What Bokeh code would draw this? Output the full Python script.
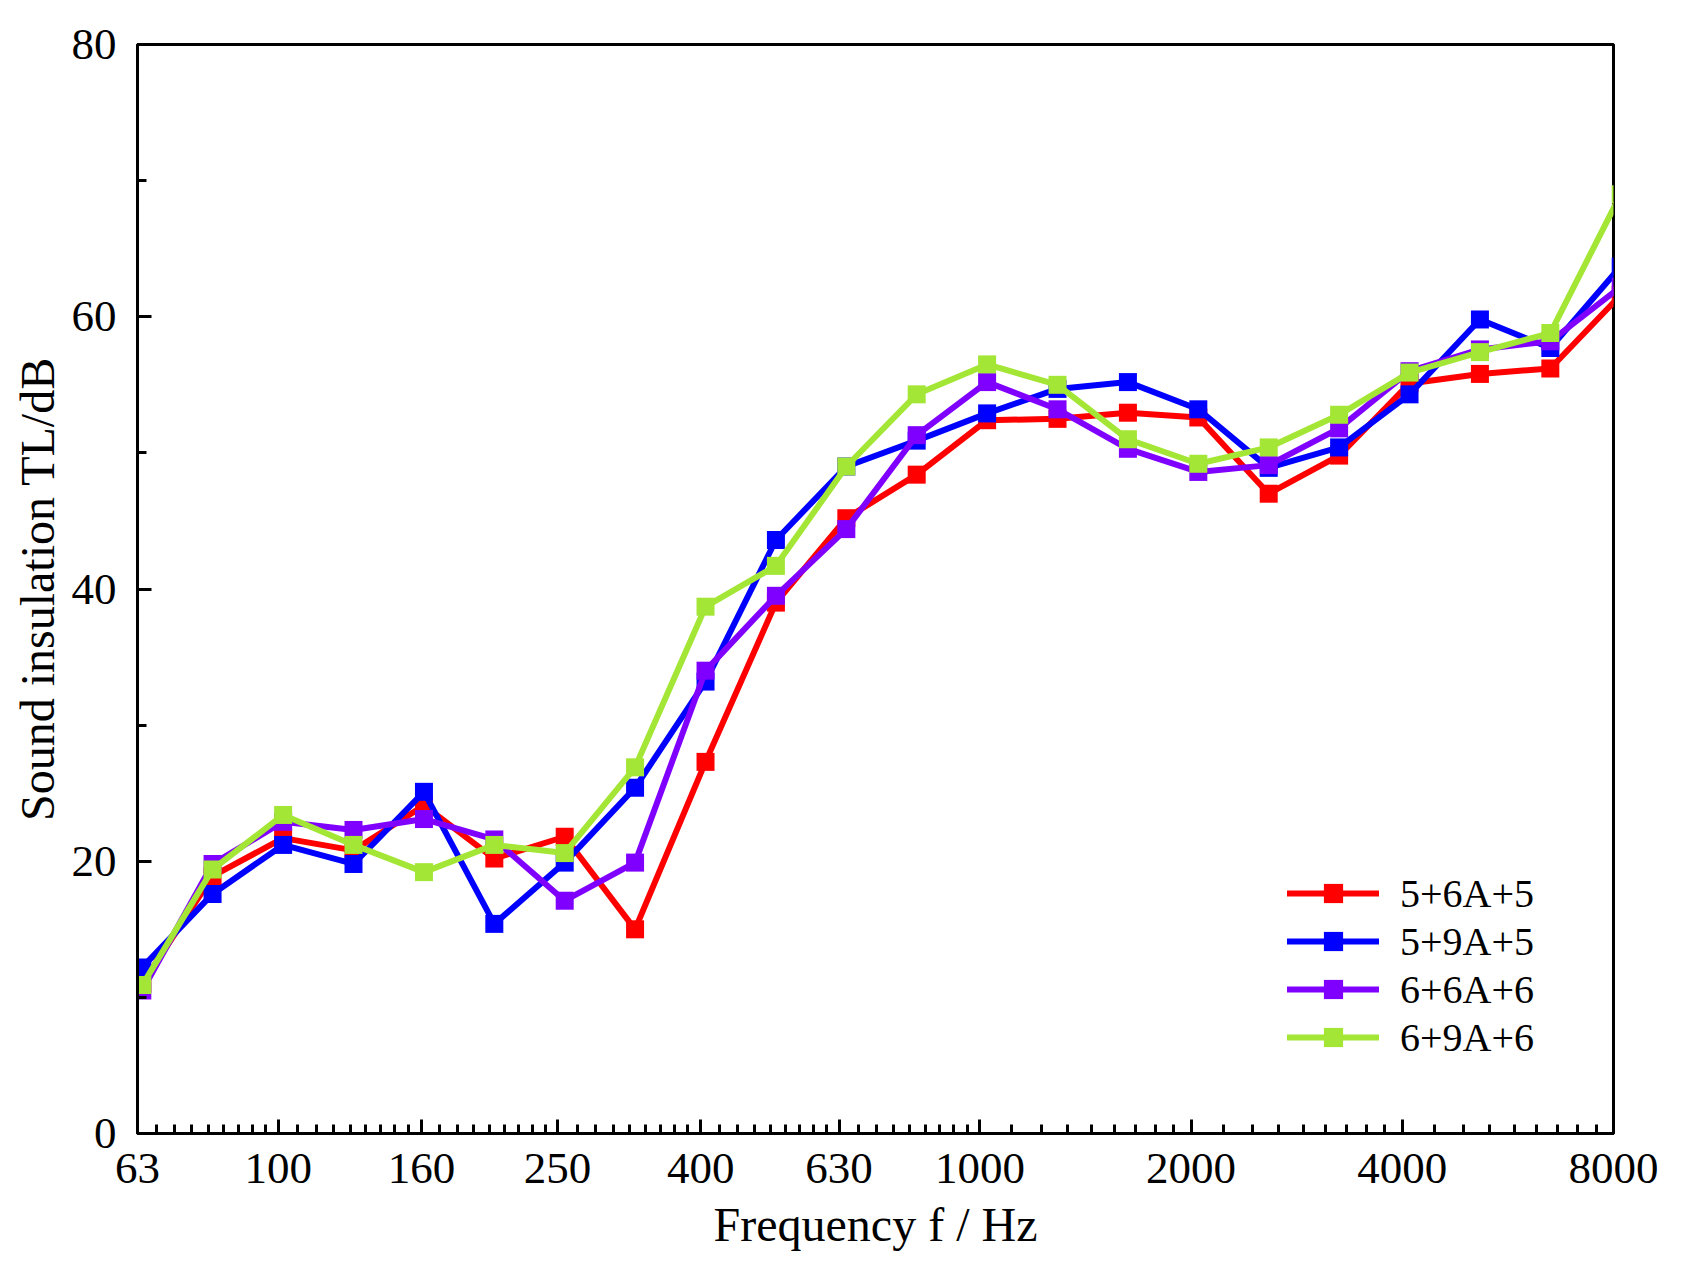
import math
from bokeh.plotting import figure
from bokeh.models import Range1d, FixedTicker, Legend, LegendItem
from bokeh.embed import file_html
from bokeh.resources import INLINE

# ---- data ----
freq = [64, 80.6, 101.6, 128, 161.3, 203.2, 256, 322.5, 406.4, 512, 645.1,
        812.7, 1024, 1290.2, 1625.5, 2048, 2580.3, 3251, 4096, 5160.6, 6501.9, 8192]

tl_5_6A_5 = [11.0, 18.9, 21.7, 20.8, 24.1, 20.2, 21.8, 15.0, 27.3, 39.0, 45.2,
             48.4, 52.4, 52.5, 52.95, 52.6, 47.0, 49.8, 55.1, 55.8, 56.2, 61.6]
tl_5_9A_5 = [12.2, 17.6, 21.2, 19.8, 25.1, 15.4, 19.9, 25.4, 33.2, 43.6, 49.0,
             50.9, 52.9, 54.7, 55.2, 53.2, 48.9, 50.4, 54.3, 59.8, 57.7, 63.7]
tl_6_6A_6 = [10.5, 19.8, 22.9, 22.3, 23.1, 21.6, 17.1, 19.9, 34.0, 39.5, 44.4,
             51.3, 55.2, 53.2, 50.3, 48.6, 49.1, 51.8, 56.0, 57.6, 58.2, 62.2]
tl_6_9A_6 = [10.9, 19.4, 23.4, 21.2, 19.2, 21.2, 20.6, 26.9, 38.7, 41.7, 49.0,
             54.3, 56.5, 55.0, 51.0, 49.2, 50.4, 52.8, 55.9, 57.4, 58.8, 69.0]

series_names = ["5+6A+5", "5+9A+5", "6+6A+6", "6+9A+6"]
series_values = [tl_5_6A_5, tl_5_9A_5, tl_6_6A_6, tl_6_9A_6]
series_colors = ["#FF0000", "#0000FF", "#8000FF", "#A4E635"]

x_tick_values = [63, 100, 160, 250, 400, 630, 1000, 2000, 4000, 8000]
x_tick_labels = ["63", "100", "160", "250", "400", "630", "1000", "2000", "4000", "8000"]
y_tick_values = [0, 20, 40, 60, 80]
y_minor_values = [10, 30, 50, 70]

x_title = "Frequency f / Hz"
y_title = "Sound insulation TL/dB"

FONT = "Liberation Serif"
X0, X1, Y0, Y1 = 63, 8000, 0, 80
FW, FH = 1476, 1089

# minor ticks: 8 linear subdivisions between consecutive major ticks
x_minor = []
for a, b in zip(x_tick_values[:-1], x_tick_values[1:]):
    for j in range(1, 9):
        x_minor.append(a + (b - a) * j / 9.0)

p = figure(x_axis_type="log", output_backend="svg", toolbar_location=None,
           frame_width=FW, frame_height=FH,
           min_border_left=137, min_border_top=44, min_border_right=60, min_border_bottom=118,
           x_range=Range1d(X0, X1), y_range=Range1d(Y0, Y1))
p.background_fill_color = "white"
p.border_fill_color = "white"
p.outline_line_color = "black"
p.outline_line_width = 3
p.xgrid.visible = False
p.ygrid.visible = False

p.xaxis.ticker = FixedTicker(ticks=x_tick_values, minor_ticks=x_minor)
p.xaxis.major_label_overrides = {v: s for v, s in zip(x_tick_values, x_tick_labels)}
p.yaxis.ticker = FixedTicker(ticks=y_tick_values, minor_ticks=y_minor_values)

for ax in (p.xaxis[0], p.yaxis[0]):
    ax.axis_line_width = 3
    ax.axis_line_color = "black"
    ax.major_tick_line_width = 3
    ax.minor_tick_line_width = 3
    ax.major_tick_in = 14
    ax.major_tick_out = 0
    ax.minor_tick_in = 9
    ax.minor_tick_out = 0
    ax.major_label_text_font = FONT
    ax.major_label_text_font_size = "45px"
    ax.major_label_text_color = "black"
    ax.axis_label_text_font = FONT
    ax.axis_label_text_font_size = "48px"
    ax.axis_label_text_font_style = "normal"
    ax.axis_label_text_color = "black"
p.xaxis.major_label_standoff = 20
p.yaxis.major_label_standoff = 21
p.xaxis.axis_label = x_title
p.yaxis.axis_label = y_title
p.xaxis.axis_label_standoff = 12
p.yaxis.axis_label_standoff = 5

items = []
for name, vals, col in zip(series_names, series_values, series_colors):
    ln = p.line(freq, vals, line_color=col, line_width=6, line_join="round", line_cap="round")
    sc = p.scatter(freq, vals, marker="square", size=18, fill_color=col, line_color=col, line_width=0)
    items.append(LegendItem(label=name, renderers=[ln, sc]))

legend = Legend(items=items, location=(1150, 72), padding=0, margin=0, spacing=0,
                glyph_width=92, glyph_height=48, label_height=48, label_standoff=21,
                label_text_font=FONT, label_text_font_size="40px", label_text_color="black",
                border_line_color=None, background_fill_alpha=0)
p.add_layout(legend)

open("out.html", "w").write(file_html(p, INLINE))
